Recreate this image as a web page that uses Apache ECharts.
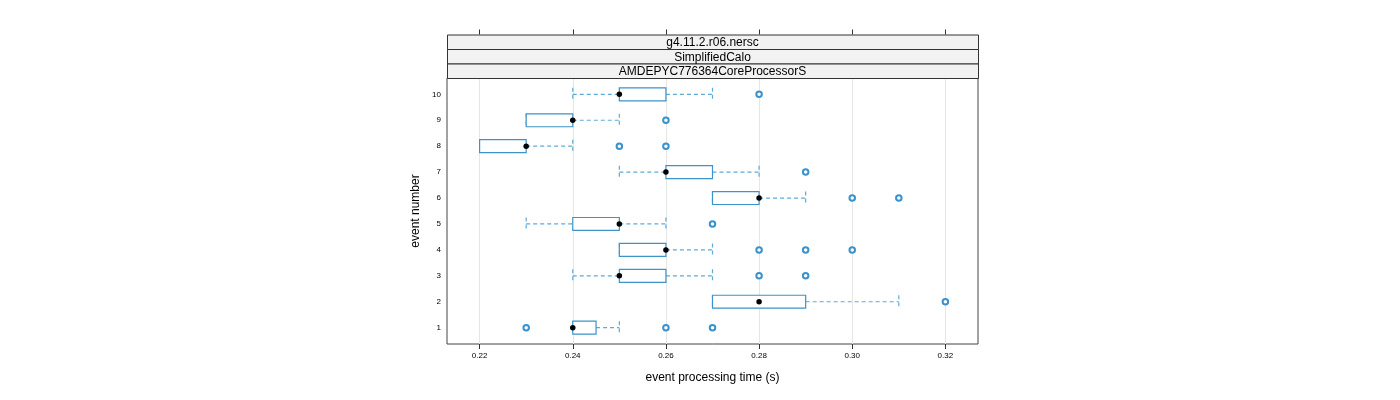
<!DOCTYPE html>
<html>
<head>
<meta charset="utf-8">
<script src="https://cdn.jsdelivr.net/npm/echarts@6/dist/echarts.min.js"></script>
<style>html,body{margin:0;padding:0;background:#fff}#c{width:1400px;height:400px}</style>
</head>
<body>
<div id="c"></div>
<script>
const events = [1, 2, 3, 4, 5, 6, 7, 8, 9, 10];
const whiskerLow  = [0.24, 0.27, 0.24, 0.25, 0.23, 0.27, 0.25, 0.22, 0.23, 0.24];
const q1          = [0.24, 0.27, 0.25, 0.25, 0.24, 0.27, 0.26, 0.22, 0.23, 0.25];
const medians     = [0.24, 0.28, 0.25, 0.26, 0.25, 0.28, 0.26, 0.23, 0.24, 0.25];
const q3          = [0.245, 0.29, 0.26, 0.26, 0.25, 0.28, 0.27, 0.23, 0.24, 0.26];
const whiskerHigh = [0.25, 0.31, 0.27, 0.27, 0.26, 0.29, 0.28, 0.24, 0.25, 0.27];
const outlierValues = [0.23, 0.26, 0.27, 0.32, 0.28, 0.29, 0.28, 0.29, 0.30, 0.27, 0.30, 0.31, 0.29, 0.25, 0.26, 0.26, 0.28];
const outlierEvents = [1, 1, 1, 2, 3, 3, 4, 4, 4, 5, 6, 6, 7, 8, 8, 9, 10];
const xTicks = [0.22, 0.24, 0.26, 0.28, 0.30, 0.32];
const stripLabels = ['g4.11.2.r06.nersc', 'SimplifiedCalo', 'AMDEPYC776364CoreProcessorS'];

const boxData = events.map((e, i) => [e, whiskerLow[i], q1[i], q3[i], whiskerHigh[i]]);
const medianData = events.map((e, i) => [medians[i], e]);
const outlierData = outlierValues.map((v, i) => [v, outlierEvents[i]]);

const boxColor = '#3d93c9';
const whiskColor = '#5eaad9';
const halfH = 0.25;

function renderBox(params, api) {
  const e = api.value(0), lo = api.value(1), a = api.value(2), b = api.value(3), hi = api.value(4);
  const pLo = api.coord([lo, e]), pA = api.coord([a, e]), pB = api.coord([b, e]), pHi = api.coord([hi, e]);
  const top = api.coord([a, e + halfH])[1], bot = api.coord([a, e - halfH])[1];
  const dash = {stroke: whiskColor, lineWidth: 1.2, lineDash: [4, 3]};
  const children = [];
  if (pA[0] > pLo[0]) children.push({type: 'line', shape: {x1: pLo[0], y1: pLo[1], x2: pA[0], y2: pA[1]}, style: dash});
  if (pHi[0] > pB[0]) children.push({type: 'line', shape: {x1: pB[0], y1: pB[1], x2: pHi[0], y2: pHi[1]}, style: dash});
  children.push({type: 'line', shape: {x1: pLo[0], y1: top, x2: pLo[0], y2: bot}, style: dash});
  children.push({type: 'line', shape: {x1: pHi[0], y1: top, x2: pHi[0], y2: bot}, style: dash});
  children.push({type: 'rect', shape: {x: pA[0], y: top, width: pB[0] - pA[0], height: bot - top},
    style: {fill: '#fff', stroke: boxColor, lineWidth: 1.2}});
  return {type: 'group', children: children};
}

const gridL = 447, gridR = 978, gridT = 78, gridB = 344;
const stripH = 14.5;
const graphics = [];
stripLabels.forEach((t, i) => {
  const y = gridT - stripH * (3 - i);
  graphics.push({type: 'rect', left: gridL, top: y, shape: {width: gridR - gridL, height: stripH},
    style: {fill: '#f2f2f2', stroke: '#333', lineWidth: 1}, z: 10});
  graphics.push({type: 'text', x: (gridL + gridR) / 2, y: y + stripH / 2 + 1,
    style: {text: t, align: 'center', verticalAlign: 'middle', fontSize: 12, fill: '#000', fontFamily: 'Liberation Sans, Arial, sans-serif'}, z: 11});
});

const chart = echarts.init(document.getElementById('c'), null, {renderer: 'canvas'});
const tickStyle = {show: true, inside: false, length: 5, lineStyle: {color: '#333'}, customValues: xTicks};
chart.setOption({
  animation: false,
  textStyle: {fontFamily: 'Liberation Sans, Arial, sans-serif'},
  grid: {left: gridL, right: 1400 - gridR, top: gridT, bottom: 400 - gridB, show: true, borderColor: '#444', borderWidth: 1, backgroundColor: 'transparent'},
  xAxis: [{
    type: 'value', min: 0.213, max: 0.327, position: 'bottom',
    axisLine: {show: false},
    axisTick: tickStyle,
    axisLabel: {customValues: xTicks, formatter: v => v.toFixed(2), fontSize: 8, color: '#000', margin: 8},
    splitLine: {show: true, lineStyle: {color: '#e6e6e6', width: 1}},
    name: 'event processing time (s)', nameLocation: 'middle', nameGap: 28,
    nameTextStyle: {fontSize: 12, color: '#000'}
  }, {
    type: 'value', min: 0.213, max: 0.327, position: 'top', offset: 3 * stripH,
    axisLine: {show: false},
    axisTick: tickStyle,
    axisLabel: {show: false},
    splitLine: {show: false}
  }],
  yAxis: {
    type: 'value', min: 0.37, max: 10.63,
    axisLine: {show: false},
    axisTick: {show: false, customValues: events},
    axisLabel: {customValues: events, fontSize: 8, color: '#000', margin: 6},
    splitLine: {show: false},
    name: 'event number', nameLocation: 'middle', nameGap: 25, nameRotate: 90,
    nameTextStyle: {fontSize: 12, color: '#000'}
  },
  graphic: graphics,
  series: [{
    type: 'custom', renderItem: renderBox, data: boxData, encode: {x: [1, 2, 3, 4], y: 0}, z: 2
  }, {
    type: 'scatter', data: outlierData, symbol: 'emptyCircle', symbolSize: 5.5,
    itemStyle: {color: '#3a92cc', borderColor: '#3a92cc', borderWidth: 0.9, opacity: 1}, z: 3
  }, {
    type: 'scatter', data: medianData, symbol: 'circle', symbolSize: 5.5,
    itemStyle: {color: '#000', opacity: 1}, z: 4
  }]
});
</script>
</body>
</html>
